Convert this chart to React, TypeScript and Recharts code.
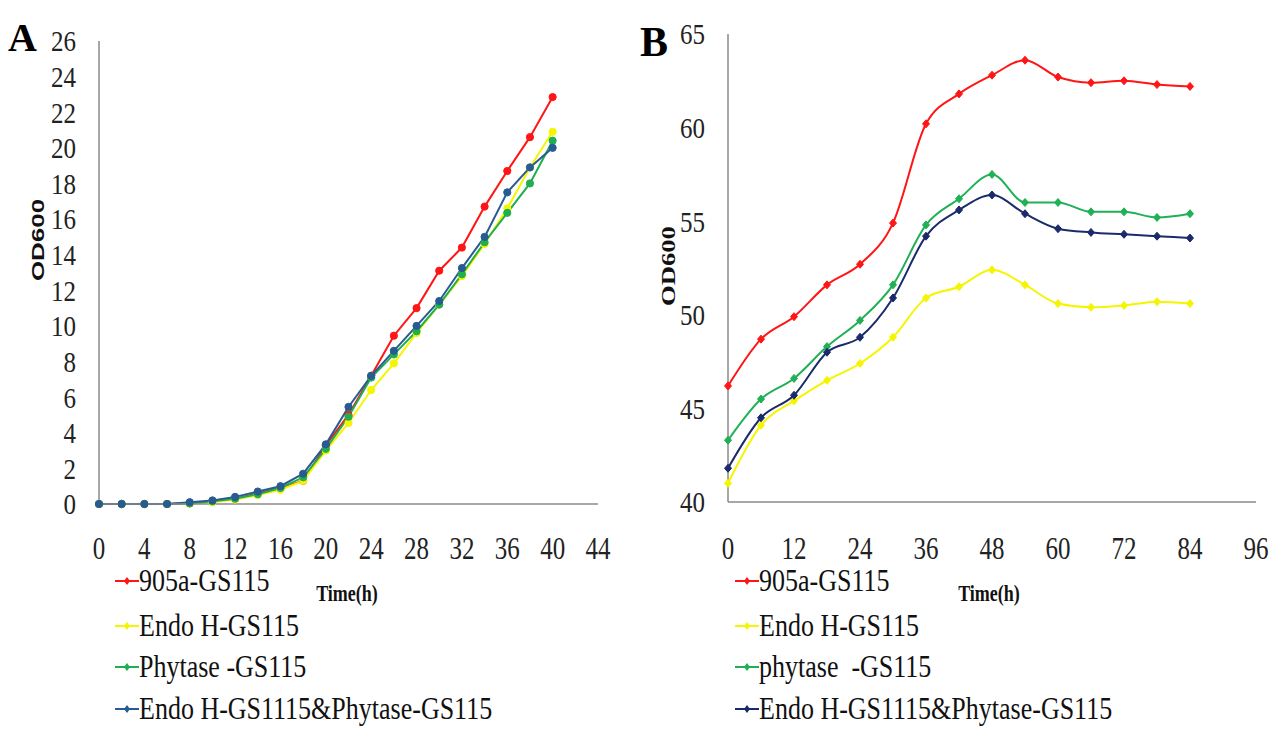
import React from "react"
import { LineChart, Line, XAxis, YAxis } from "recharts"

// panel A: sampled every 2 h
const hoursA = [0, 2, 4, 6, 8, 10, 12, 14, 16, 18, 20, 22, 24, 26, 28, 30, 32, 34, 36, 38, 40]
const redA = [0, 0, 0, 0, 0.05, 0.15, 0.3, 0.6, 0.9, 1.3, 3.3, 5.0, 7.2, 9.45, 11.0, 13.1, 14.4, 16.7, 18.7, 20.6, 22.85]
const yellowA = [0, 0, 0, 0, 0.02, 0.1, 0.25, 0.5, 0.8, 1.3, 3.0, 4.55, 6.4, 7.9, 9.6, 11.2, 12.8, 14.6, 16.6, 18.9, 20.9]
const greenA = [0, 0, 0, 0, 0.03, 0.15, 0.3, 0.55, 0.9, 1.5, 3.1, 4.9, 7.1, 8.4, 9.7, 11.2, 12.9, 14.7, 16.35, 18.0, 20.4]
const blueA = [0, 0, 0, 0, 0.1, 0.2, 0.4, 0.7, 1.0, 1.7, 3.35, 5.45, 7.2, 8.6, 10.0, 11.4, 13.25, 15.0, 17.5, 18.9, 20.0]
const ticksXA = [0, 4, 8, 12, 16, 20, 24, 28, 32, 36, 40, 44]
const ticksYA = [0, 2, 4, 6, 8, 10, 12, 14, 16, 18, 20, 22, 24, 26]
const namesA = ["905a-GS115", "Endo H-GS115", "Phytase -GS115", "Endo H-GS1115&Phytase-GS115"]

// panel B: sampled every 6 h
const hoursB = [0, 6, 12, 18, 24, 30, 36, 42, 48, 54, 60, 66, 72, 78, 84]
const redB = [46.2, 48.7, 49.9, 51.6, 52.7, 54.9, 60.2, 61.8, 62.8, 63.6, 62.7, 62.4, 62.5, 62.3, 62.2]
const yellowB = [41.0, 44.1, 45.4, 46.5, 47.4, 48.8, 50.9, 51.5, 52.4, 51.6, 50.6, 50.4, 50.5, 50.7, 50.6]
const greenB = [43.3, 45.5, 46.6, 48.3, 49.7, 51.6, 54.8, 56.2, 57.5, 56.0, 56.0, 55.5, 55.5, 55.2, 55.4]
const blueB = [41.8, 44.5, 45.7, 48.0, 48.8, 50.9, 54.2, 55.6, 56.4, 55.4, 54.6, 54.4, 54.3, 54.2, 54.1]
const ticksXB = [0, 12, 24, 36, 48, 60, 72, 84, 96]
const ticksYB = [40, 45, 50, 55, 60, 65]
const namesB = ["905a-GS115", "Endo H-GS115", "phytase  -GS115", "Endo H-GS1115&Phytase-GS115"]

const keys = ["red", "yellow", "green", "blue"]
const colorsA = ["#ff1515", "#f5f500", "#1fae50", "#285b91"]
const colorsB = ["#ff1515", "#f5f500", "#20b055", "#1b2a6b"]

const dataA = hoursA.map((h, i) => ({ h, red: redA[i], yellow: yellowA[i], green: greenA[i], blue: blueA[i] }))
const dataB = hoursB.map((h, i) => ({ h, red: redB[i], yellow: yellowB[i], green: greenB[i], blue: blueB[i] }))

const SERIF = "'Liberation Serif', 'Times New Roman', serif"
const AXIS = "#8a8a8a"

const YTick = (props: any) => {
  const { x, y, payload } = props
  return (
    <text transform={`translate(${x},${y}) scale(1,1.22)`} textAnchor="end" dy="0.34em"
      fontFamily={SERIF} fontSize={25} fill="#222">
      {payload.value}
    </text>
  )
}

const XTick = (props: any) => {
  const { x, y, payload } = props
  return (
    <text transform={`translate(${x},${y}) scale(1,1.25)`} textAnchor="middle" dy="0.34em"
      fontFamily={SERIF} fontSize={25} fill="#222">
      {payload.value}
    </text>
  )
}

const Diamond = (props: any) => {
  const { cx, cy, stroke } = props
  if (cx == null || cy == null) return null
  return <path d={`M${cx},${cy - 4}L${cx + 3.5},${cy}L${cx},${cy + 4}L${cx - 3.5},${cy}Z`} fill={stroke} stroke={stroke} strokeWidth={1} />
}

const Dot = (props: any) => {
  const { cx, cy, stroke } = props
  if (cx == null || cy == null) return null
  return <circle cx={cx} cy={cy} r={3.6} fill={stroke} stroke={stroke} />
}

const legendRows = [581, 626, 667, 709]

function SeriesLegend({ names, colors, left }: { names: string[]; colors: string[]; left: number }) {
  return (
    <>
      {names.map((n, i) => (
        <div key={n} style={{ position: "absolute", left, top: legendRows[i] - 14, height: 28, display: "flex", alignItems: "center" }}>
          <svg width={24} height={12} style={{ flex: "none" }}>
            <line x1={0} y1={6} x2={24} y2={6} stroke={colors[i]} strokeWidth={2} />
            <path d="M12,2L15,6L12,10L9,6Z" fill={colors[i]} />
          </svg>
          <span style={{ fontFamily: SERIF, fontSize: 26, color: "#111", whiteSpace: "pre", display: "inline-block", transform: "scale(1,1.2)", transformOrigin: "left center", lineHeight: "22px" }}>
            {n}
          </span>
        </div>
      ))}
    </>
  )
}

function Rotated({ text, cx, cy, font, size, stretch }: { text: string; cx: number; cy: number; font: string; size: number; stretch: number }) {
  return (
    <div style={{ position: "absolute", left: cx, top: cy, transform: `translate(-50%,-50%) rotate(-90deg) scaleX(${stretch})`, fontFamily: font, fontWeight: 700, fontSize: size, whiteSpace: "nowrap", lineHeight: 1, color: "#111" }}>
      {text}
    </div>
  )
}

function TimeLabel({ cx }: { cx: number }) {
  return (
    <div style={{ position: "absolute", left: cx, top: 593, transform: "translate(-50%,-50%) scale(1,1.3)", fontFamily: SERIF, fontWeight: 700, fontSize: 18, whiteSpace: "nowrap", lineHeight: 1, color: "#111" }}>
      Time(h)
    </div>
  )
}

export default function App() {
  return (
    <div style={{ position: "absolute", left: 0, top: 0, width: 1274, height: 732, background: "#fff", overflow: "hidden" }}>
      <div style={{ position: "absolute", left: 0, top: 0 }}>
        <LineChart width={620} height={600} data={dataA} margin={{ top: 41, right: 22, left: 0, bottom: 0 }}>
          <XAxis dataKey="h" type="number" domain={[0, 44]} ticks={ticksXA} tick={<XTick />} tickLine={false} tickSize={0} tickMargin={44} height={96} axisLine={{ stroke: AXIS, strokeWidth: 1.5 }} />
          <YAxis type="number" domain={[0, 26]} ticks={ticksYA} tick={<YTick />} tickLine={false} tickSize={0} tickMargin={23} width={99} axisLine={{ stroke: AXIS, strokeWidth: 1.5 }} />
          {keys.map((k, i) => (
            <Line key={k} type="linear" dataKey={k} stroke={colorsA[i]} strokeWidth={2} dot={<Dot />} activeDot={false} isAnimationActive={false} />
          ))}
        </LineChart>
      </div>
      <div style={{ position: "absolute", left: 620, top: 0 }}>
        <LineChart width={654} height={600} data={dataB} margin={{ top: 34, right: 18, left: 0, bottom: 0 }}>
          <XAxis dataKey="h" type="number" domain={[0, 96]} ticks={ticksXB} tick={<XTick />} tickLine={false} tickSize={0} tickMargin={46} height={98} axisLine={{ stroke: AXIS, strokeWidth: 1.5 }} />
          <YAxis type="number" domain={[40, 65]} ticks={ticksYB} tick={<YTick />} tickLine={false} tickSize={0} tickMargin={23} width={108} axisLine={{ stroke: AXIS, strokeWidth: 1.5 }} />
          {keys.map((k, i) => (
            <Line key={k} type="monotone" dataKey={k} stroke={colorsB[i]} strokeWidth={2} dot={<Diamond />} activeDot={false} isAnimationActive={false} />
          ))}
        </LineChart>
      </div>

      <div style={{ position: "absolute", left: 8, top: 14, fontFamily: SERIF, fontWeight: 700, fontSize: 40, lineHeight: "48px", color: "#000" }}>A</div>
      <div style={{ position: "absolute", left: 640, top: 18, fontFamily: SERIF, fontWeight: 700, fontSize: 42, lineHeight: "48px", color: "#000" }}>B</div>

      <Rotated text="OD600" cx={39} cy={240} font="'Liberation Sans', Arial, sans-serif" size={16} stretch={1.62} />
      <Rotated text="OD600" cx={668} cy={266} font={SERIF} size={19} stretch={1.4} />

      <TimeLabel cx={347} />
      <TimeLabel cx={989} />

      <SeriesLegend names={namesA} colors={colorsA} left={115} />
      <SeriesLegend names={namesB} colors={colorsB} left={735} />
    </div>
  )
}
